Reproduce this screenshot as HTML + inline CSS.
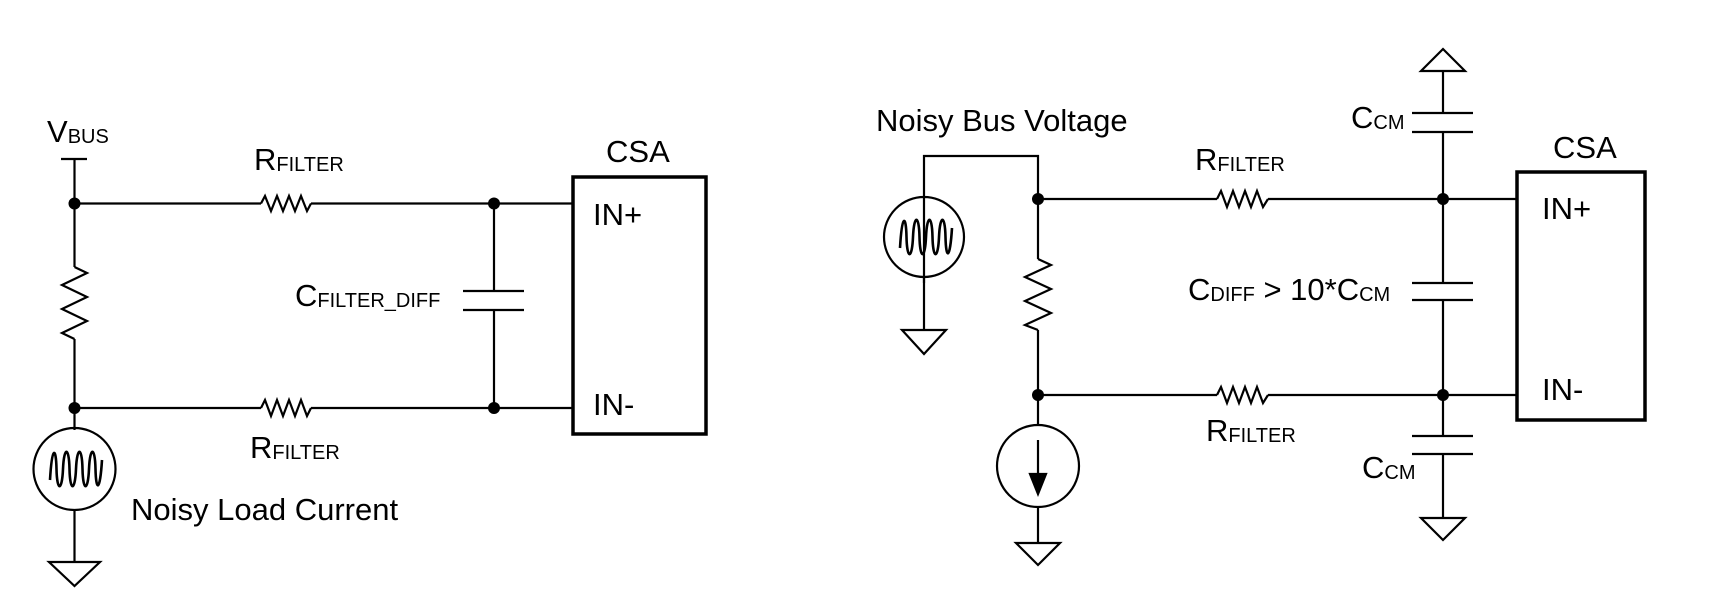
<!DOCTYPE html>
<html><head><meta charset="utf-8"><style>
html,body{margin:0;padding:0;background:#fff;}
svg{display:block;}
text{font-family:"Liberation Sans",Arial,sans-serif;fill:#000;}
.t{font-size:31px;}
.s{font-size:20px;}
</style></head><body>
<svg width="1735" height="604" viewBox="0 0 1735 604" xmlns="http://www.w3.org/2000/svg">
<g stroke="#000" stroke-width="2.2" fill="none">
<!-- LEFT -->
<line x1="61" y1="159" x2="87" y2="159"/>
<line x1="74.5" y1="159" x2="74.5" y2="267"/>
<polyline points="74.5,267 87,273 62,285 87,297 62,309 87,321 62,333 74.5,339"/>
<line x1="74.5" y1="339" x2="74.5" y2="430"/>
<line x1="74.5" y1="203.5" x2="261" y2="203.5"/>
<polyline points="261,203.5 265,196 271,211 277,196 283,211 289,196 295,211 301,196 307,211 311,203.5"/>
<line x1="311" y1="203.5" x2="573" y2="203.5"/>
<line x1="74.5" y1="408" x2="261" y2="408"/>
<polyline points="261,408 265,400 271,416 277,400 283,416 289,400 295,416 301,400 307,416 311,408"/>
<line x1="311" y1="408" x2="573" y2="408"/>
<line x1="494" y1="203.5" x2="494" y2="291"/>
<line x1="494" y1="310" x2="494" y2="408"/>
<line x1="463" y1="291" x2="524" y2="291"/>
<line x1="463" y1="310" x2="524" y2="310"/>
<rect x="573" y="177" width="133" height="257" stroke-width="3.5"/>
<circle cx="74.5" cy="469" r="41"/>
<path stroke-width="2.6" d="M50,480 C52,446 56,446 56.5,469 C57,492 62,492 63,469 C64,446 69,446 69.5,469 C70,492 75,492 76,469 C77,446 82,446 82.5,469 C83,492 88,492 89,469 C90,446 95,446 95.5,469 C96,492 100,492 102,460"/>
<line x1="74.5" y1="510" x2="74.5" y2="562"/>
<polygon points="49,562 100,562 74.5,586"/>
<!-- RIGHT -->
<g transform="translate(-6,0)">
<polyline points="930,283 930,156 1044,156 1044,259"/>
<circle cx="930" cy="237" r="40"/>
<path stroke-width="2.6" d="M906,248 C908,214 912,214 912.5,237 C913,260 918,260 919,237 C920,214 925,214 925.5,237 C926,260 931,260 932,237 C933,214 938,214 938.5,237 C939,260 944,260 945,237 C946,214 951,214 951.5,237 C952,260 956,260 958,228"/>
<line x1="930" y1="277" x2="930" y2="330"/>
<polygon points="908,330 952,330 930,354"/>
<polyline points="1044,259 1057,265 1031,277 1057,289 1031,301 1057,313 1031,325 1044,330"/>
<line x1="1044" y1="330" x2="1044" y2="425"/>
<line x1="1044" y1="199" x2="1223" y2="199"/>
<polyline points="1223,199 1227,191 1233,207 1239,191 1245,207 1251,191 1257,207 1263,191 1269,207 1274,199"/>
<line x1="1274" y1="199" x2="1523" y2="199"/>
<line x1="1044" y1="395" x2="1223" y2="395"/>
<polyline points="1223,395 1227,387 1233,403 1239,387 1245,403 1251,387 1257,403 1263,387 1269,403 1274,395"/>
<line x1="1274" y1="395" x2="1523" y2="395"/>
<circle cx="1044" cy="466" r="41"/>
<line x1="1044" y1="440" x2="1044" y2="480"/>
<polygon points="1036,474 1052,474 1044,494" fill="#000"/>
<line x1="1044" y1="507" x2="1044" y2="543"/>
<polygon points="1022,543 1066,543 1044,565"/>
<polygon points="1427,71 1471,71 1449,49"/>
<line x1="1449" y1="71" x2="1449" y2="113"/>
<line x1="1418" y1="113" x2="1479" y2="113"/>
<line x1="1418" y1="132" x2="1479" y2="132"/>
<line x1="1449" y1="132" x2="1449" y2="283"/>
<line x1="1418" y1="283" x2="1479" y2="283"/>
<line x1="1418" y1="300" x2="1479" y2="300"/>
<line x1="1449" y1="300" x2="1449" y2="436"/>
<line x1="1418" y1="436" x2="1479" y2="436"/>
<line x1="1418" y1="454" x2="1479" y2="454"/>
<line x1="1449" y1="454" x2="1449" y2="518"/>
<polygon points="1427,518 1471,518 1449,540"/>
<rect x="1523" y="172" width="128" height="248" stroke-width="3.5"/>
</g>
</g>
<g fill="#000">
<circle cx="74.5" cy="203.5" r="6"/><circle cx="494" cy="203.5" r="6"/>
<circle cx="74.5" cy="408" r="6"/><circle cx="494" cy="408" r="6"/>
<g transform="translate(-6,0)">
<circle cx="1044" cy="199" r="6"/><circle cx="1449" cy="199" r="6"/>
<circle cx="1044" cy="395" r="6"/><circle cx="1449" cy="395" r="6"/>
</g>
</g>
<text x="47" y="142" class="t">V<tspan class="s" dy="1">BUS</tspan></text>
<text x="254" y="170" class="t">R<tspan class="s" dy="1">FILTER</tspan></text>
<text x="250" y="458" class="t">R<tspan class="s" dy="1">FILTER</tspan></text>
<text x="295" y="306" class="t">C<tspan class="s" dy="1">FILTER_DIFF</tspan></text>
<text x="606" y="162" class="t">CSA</text>
<text x="593" y="225" class="t">IN+</text>
<text x="593" y="415" class="t">IN-</text>
<text x="131" y="520" class="t">Noisy Load Current</text>
<text x="876" y="131" class="t">Noisy Bus Voltage</text>
<text x="1195" y="170" class="t">R<tspan class="s" dy="1">FILTER</tspan></text>
<text x="1206" y="441" class="t">R<tspan class="s" dy="1">FILTER</tspan></text>
<text x="1351" y="128" class="t">C<tspan class="s" dy="1">CM</tspan></text>
<text x="1188" y="300" class="t">C<tspan class="s" dy="1">DIFF</tspan><tspan dy="-1"> &gt; 10*C</tspan><tspan class="s" dy="1">CM</tspan></text>
<text x="1362" y="478" class="t">C<tspan class="s" dy="1">CM</tspan></text>
<text x="1553" y="158" class="t">CSA</text>
<text x="1542" y="219" class="t">IN+</text>
<text x="1542" y="400" class="t">IN-</text>
</svg>
</body></html>
